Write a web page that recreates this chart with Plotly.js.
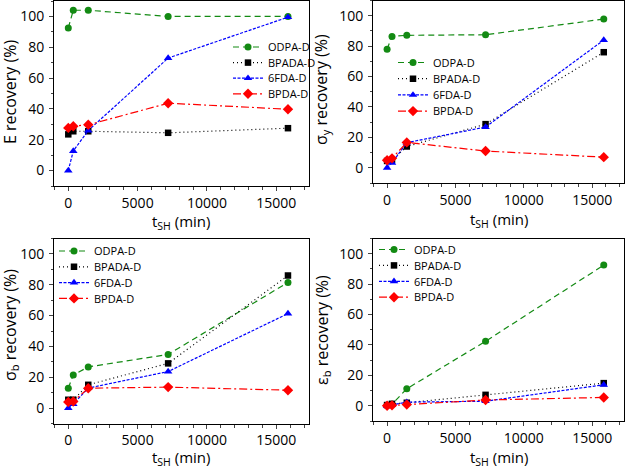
<!DOCTYPE html>
<html>
<head>
<meta charset="utf-8">
<script src="https://cdn.plot.ly/plotly-3.0.1.min.js"></script>
<style>
  body { margin: 0; background: #fff; }
  #graficos { width: 625px; height: 470px; }
</style>
</head>
<body>
<div id="graficos"></div>
<script>
// tiempos de self-healing (min)
let tSH = [0, 360, 1440, 7200, 15840];
let nombres = ['ODPA-D', 'BPADA-D', '6FDA-D', 'BPDA-D'];

// E recovery (%)
let eODPA  = [92.5, 104, 104, 100, 100];
let eBPADA = [23.5, 25.5, 25.5, 24.5, 27.5];
let e6FDA  = [0, 12.7, 26, 73, 99.5];
let eBPDA  = [27.7, 28.8, 29.7, 43.7, 39.8];

// sigma_y recovery (%)
let syODPA  = [78, 86.4, 87.1, 87.5, 97.8];
let syBPADA = [4.5, 5, 14, 28.7, 76];
let sy6FDA  = [0, 3.3, 16.5, 26.8, 84];
let syBPDA  = [5, 6.2, 16.7, 11, 7];

// sigma_b recovery (%)
let sbODPA  = [12.9, 21.5, 26.7, 34.8, 81.5];
let sbBPADA = [5.4, 5.4, 15.1, 29, 86];
let sb6FDA  = [0, 2.6, 13, 23.7, 61.3];
let sbBPDA  = [3.9, 4.3, 12.9, 13.6, 11.6];

// epsilon_b recovery (%)
let ebODPA  = [0.3, 1, 11.2, 42.4, 92.5];
let ebBPADA = [0.5, 1.3, 2, 7.2, 14.9];
let eb6FDA  = [0, 0.5, 2.4, 3, 13.8];
let ebBPDA  = [0, 0.3, 0.8, 3.8, 5.5];

let paneles = [
    {datos: [eODPA, eBPADA, e6FDA, eBPDA], titulo: 'E recovery (%)'},
    {datos: [syODPA, syBPADA, sy6FDA, syBPDA], titulo: '\u03c3<sub>y</sub> recovery (%)'},
    {datos: [sbODPA, sbBPADA, sb6FDA, sbBPDA], titulo: '\u03c3<sub>b</sub> recovery (%)'},
    {datos: [ebODPA, ebBPADA, eb6FDA, ebBPDA], titulo: '\u03b5<sub>b</sub> recovery (%)'}
];
let tituloX = 't<sub>SH</sub> (min)';

// estilos de cada serie
let colores = ['#138a13', '#000000', '#0000ff', '#ff0000'];
let simbolos = ['circle', 'square', 'triangle-up', 'diamond'];
let tamanos = [7, 6.5, 7.5, 8];
let guiones = ['6px,4px', '1px,3px', '3px,1.5px', '8px,3px,2px,3px'];

// cajas de cada panel en pixeles [izq, der, arriba, abajo]
let cajas = [
    [54, 308.5, 1, 186],
    [373, 624, 0.5, 183],
    [54, 308.5, 238.5, 423.5],
    [373, 624, 238.5, 421]
];
// titulos: x del titulo Y, centro vertical del titulo Y, borde inferior del titulo X
let posTitulos = [
    [10, 92, 234],
    [322, 90, 232],
    [10, 325, 470],
    [322, 330, 470]
];
// leyendas: inicio de la linea, centro de la primera entrada, paso
let leyendas = [
    [233, 47, 15.6],
    [398, 62.5, 16.2],
    [59, 251, 15.8],
    [379, 249.5, 15.9]
];

const W = 625, H = 470;
let trazas = [];
let anotaciones = [];
let layout = {
    width: W,
    height: H,
    margin: {l: 0, r: 0, t: 0, b: 0},
    paper_bgcolor: '#fff',
    plot_bgcolor: '#fff',
    showlegend: true,
    font: {family: 'Open Sans, sans-serif', color: '#000'}
};

let nLeyenda = 0;
paneles.forEach((p, i) => {
    let sufijo = i === 0 ? '' : String(i + 1);
    let c = cajas[i];
    layout['xaxis' + sufijo] = {
        domain: [c[0] / W, c[1] / W],
        anchor: 'y' + sufijo,
        range: [-1030, 17320],
        tick0: 0,
        dtick: 5000,
        tickformat: 'd',
        ticks: 'outside',
        ticklen: 4,
        tickwidth: 1,
        ticklabelstandoff: 0,
        minor: {dtick: 1000, ticks: 'outside', ticklen: 3, tickwidth: 1},
        showline: true,
        mirror: true,
        linecolor: '#000',
        linewidth: 1,
        showgrid: false,
        zeroline: false,
        automargin: false,
        tickfont: {size: 14}
    };
    layout['yaxis' + sufijo] = {
        domain: [1 - c[3] / H, 1 - c[2] / H],
        anchor: 'x' + sufijo,
        range: [-10, 110],
        tick0: 0,
        dtick: 20,
        ticks: 'outside',
        ticklen: 4,
        tickwidth: 1,
        ticklabelstandoff: 2,
        minor: {dtick: 10, ticks: 'outside', ticklen: 2, tickwidth: 1},
        showline: true,
        mirror: true,
        linecolor: '#000',
        linewidth: 1,
        showgrid: false,
        zeroline: false,
        automargin: false,
        tickfont: {size: 14}
    };
    let pt = posTitulos[i];
    anotaciones.push({
        text: p.titulo, xref: 'paper', yref: 'paper',
        x: pt[0] / W, y: 1 - pt[1] / H, xanchor: 'center', yanchor: 'middle',
        textangle: -90, showarrow: false, font: {size: 16}
    });
    anotaciones.push({
        text: tituloX, xref: 'paper', yref: 'paper',
        x: (c[0] + c[1]) / 2 / W, y: 1 - pt[2] / H, xanchor: 'center', yanchor: 'bottom',
        borderpad: 0, showarrow: false, font: {size: 15}
    });
    let L = leyendas[i];
    p.datos.forEach((serie, k) => {
        nLeyenda++;
        let nombreLeyenda = nLeyenda === 1 ? 'legend' : 'legend' + nLeyenda;
        trazas.push({
            x: tSH,
            y: serie,
            name: nombres[k],
            type: 'scatter',
            mode: 'lines+markers',
            xaxis: 'x' + sufijo,
            yaxis: 'y' + sufijo,
            legend: nombreLeyenda,
            line: {color: colores[k], width: 1.2, dash: guiones[k]},
            marker: {color: colores[k], symbol: simbolos[k], size: tamanos[k]},
            cliponaxis: false
        });
        layout[nombreLeyenda] = {
            x: (L[0] - 5) / W,
            y: 1 - (L[1] + k * L[2]) / H,
            xanchor: 'left',
            yanchor: 'middle',
            bgcolor: 'rgba(0,0,0,0)',
            borderwidth: 0,
            font: {size: 11},
            itemwidth: 30,
            visible: true
        };
    });
});
layout.annotations = anotaciones;

let contenedor = document.getElementById('graficos');
Plotly.newPlot(contenedor, trazas, layout, {displayModeBar: false, staticPlot: true});
</script>
</body>
</html>
